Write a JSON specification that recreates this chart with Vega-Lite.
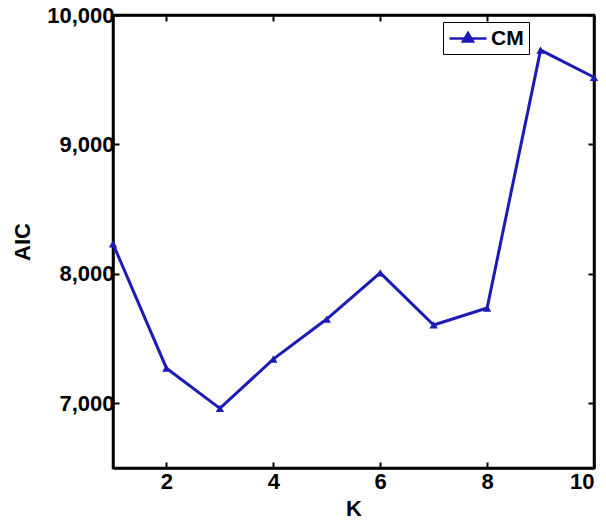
{
  "$schema": "https://vega.github.io/schema/vega-lite/v6.json",
  "autosize": "none",
  "width": 481,
  "height": 453,
  "padding": {"left": 113, "top": 15, "right": 12, "bottom": 52},
  "background": "white",
  "config": {
    "font": "Liberation Sans",
    "view": {"stroke": "black", "strokeWidth": 2.5}
  },
  "data": {"values": [
    {"K": 1, "AIC": 8232, "series": "CM"},
    {"K": 2, "AIC": 7271, "series": "CM"},
    {"K": 3, "AIC": 6961, "series": "CM"},
    {"K": 4, "AIC": 7341, "series": "CM"},
    {"K": 5, "AIC": 7651, "series": "CM"},
    {"K": 6, "AIC": 8008, "series": "CM"},
    {"K": 7, "AIC": 7605, "series": "CM"},
    {"K": 8, "AIC": 7736, "series": "CM"},
    {"K": 9, "AIC": 9729, "series": "CM"},
    {"K": 10, "AIC": 9519, "series": "CM"}
  ]},
  "layer": [
    {
      "mark": {"type": "line", "strokeWidth": 3, "point": {"shape": "triangle-up", "size": 70, "filled": true}},
      "encoding": {
        "x": {"field": "K", "type": "quantitative", "scale": {"domain": [1, 10], "nice": false},
          "axis": {"orient": "bottom", "values": [2, 4, 6, 8, 10], "format": "d", "title": "K",
            "grid": false, "domainColor": "black", "domainWidth": 2.5, "tickColor": "black", "tickWidth": 2, "tickSize": -6,
            "labelFont": "Liberation Sans", "labelFontWeight": "bold", "labelFontSize": 22, "labelColor": "black", "labelPadding": 9,
            "titleFont": "Liberation Sans", "titleFontWeight": "bold", "titleFontSize": 22, "titleColor": "black", "titlePadding": 6}},
        "y": {"field": "AIC", "type": "quantitative", "scale": {"domain": [6500, 10000], "nice": false, "zero": false},
          "axis": {"orient": "left", "values": [7000, 8000, 9000, 10000], "format": ",d", "formatType": "number", "title": "AIC",
            "grid": false, "domainColor": "black", "domainWidth": 2.5, "tickColor": "black", "tickWidth": 2, "tickSize": -6,
            "labelFont": "Liberation Sans", "labelFontWeight": "bold", "labelFontSize": 22, "labelColor": "black", "labelPadding": 5,
            "titleFont": "Liberation Sans", "titleFontWeight": "bold", "titleFontSize": 22, "titleColor": "black", "titlePadding": 12}},
        "color": {"field": "series", "type": "nominal", "scale": {"range": ["#1c1cb4"]},
          "legend": {"title": null, "orient": "none", "legendX": 330, "legendY": 7,
            "strokeColor": "black", "fillColor": "white", "padding": 5,
            "symbolType": "M-1,0H2.7M0.35,0.3L0.85,-0.55L1.35,0.3Z", "symbolSize": 400, "symbolStrokeWidth": 2.5,
            "labelOffset": 20,
            "labelFontSize": 21, "labelFontWeight": "bold", "labelColor": "black", "labelFont": "Liberation Sans"}}
      }
    },
    {
      "mark": {"type": "point", "opacity": 0},
      "encoding": {
        "x": {"field": "K", "type": "quantitative", "axis": {"orient": "top", "values": [2, 4, 6, 8, 10], "format": "d", "labels": false, "title": null,
          "grid": false, "domainColor": "black", "domainWidth": 2.5, "tickColor": "black", "tickWidth": 2, "tickSize": -6}},
        "y": {"field": "AIC", "type": "quantitative", "axis": {"orient": "right", "values": [7000, 8000, 9000, 10000], "format": ",d", "formatType": "number", "labels": false, "title": null,
          "grid": false, "domainColor": "black", "domainWidth": 2.5, "tickColor": "black", "tickWidth": 2, "tickSize": -6}}
      }
    }
  ]
}
